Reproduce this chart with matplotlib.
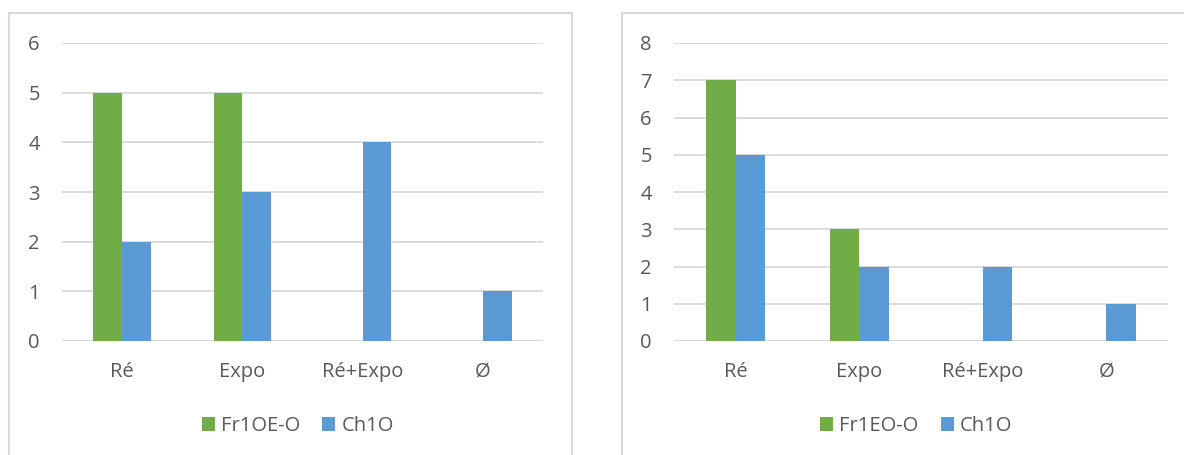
import numpy as np
import matplotlib.pyplot as plt
from matplotlib.patches import Rectangle

categories = ['Ré', 'Expo', 'Ré+Expo', 'Ø']
left_green = [5, 5, 0, 0]
left_blue = [2, 3, 4, 1]
right_green = [7, 3, 0, 0]
right_blue = [5, 2, 2, 1]
left_labels = ['Fr1OE-O', 'Ch1O']
right_labels = ['Fr1EO-O', 'Ch1O']

GREEN = '#70AD47'
BLUE = '#5B9BD5'
GRID = '#D9D9D9'
TEXT = '#595959'

W, H = 1184, 455
plt.rcParams['font.family'] = ['Open Sans', 'DejaVu Sans']
fig = plt.figure(figsize=(W / 100, H / 100), dpi=100)

def px(x0, y0, x1, y1):
    # pixel box (top-left origin) -> figure fraction
    return [x0 / W, 1 - y1 / H, (x1 - x0) / W, (y1 - y0) / H]

def panel(box, axbox, green, blue, labels, ymax, legend_x):
    b = px(*box)
    fig.patches.append(Rectangle((b[0], b[1]), b[2], b[3], transform=fig.transFigure,
                                 fill=False, edgecolor=GRID, lw=1.5))
    ax = fig.add_axes(px(*axbox))
    x = np.arange(len(categories))
    w = 0.24
    g = ax.bar(x - w / 2, green, w, color=GREEN, label=labels[0], zorder=3)
    bl = ax.bar(x + w / 2, blue, w, color=BLUE, label=labels[1], zorder=3)
    ax.set_xlim(-0.5, len(categories) - 0.5)
    ax.set_ylim(0, ymax)
    ax.set_yticks(range(ymax + 1))
    ax.yaxis.grid(True, color=GRID, lw=1.3, zorder=0)
    for s in ax.spines.values():
        s.set_visible(False)
    ax.axhline(0, color=GRID, lw=1.5, zorder=2)
    ax.tick_params(length=0, labelsize=14.5, colors=TEXT, pad=16)
    ax.tick_params(axis='x', pad=15)
    ax.set_xticks(x)
    ax.set_xticklabels(categories)
    ax.legend(handles=[g, bl], loc='center', bbox_to_anchor=(legend_x, -0.285),
              ncol=2, frameon=False, fontsize=14.5, labelcolor=TEXT,
              handlelength=0.65, handleheight=0.65, handletextpad=0.3, columnspacing=1.1)

panel((9, 13, 572, 460), (62, 43, 543, 341), left_green, left_blue, left_labels, 6, 0.49)
panel((622, 13, 1190, 460), (674, 43, 1168, 341), right_green, right_blue, right_labels, 8, 0.49)

fig.savefig('out.png', dpi=100)
